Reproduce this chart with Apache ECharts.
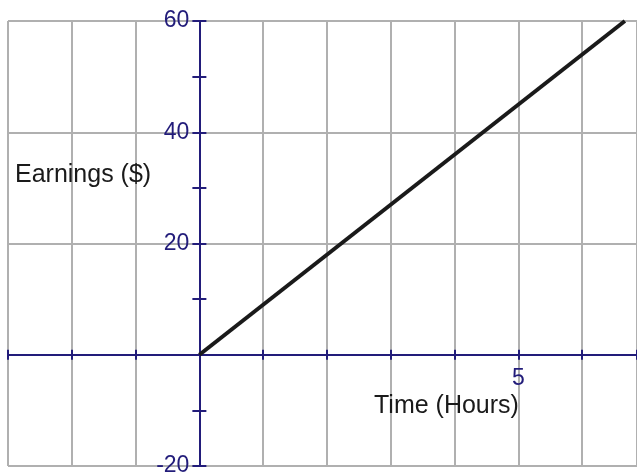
<!DOCTYPE html>
<html>
<head>
<meta charset="utf-8">
<script src="https://cdn.jsdelivr.net/npm/echarts@6/dist/echarts.min.js"></script>
<style>
html,body{margin:0;padding:0;background:#fff;}
#c{width:637px;height:473px;}
</style>
</head>
<body>
<div id="c"></div>
<script>
const hours = [0, 6.67];
const earnings = [0, 60];
const xLabelsShown = [5];
const yLabelsShown = [60, 40, 20, -20];
const xTitle = 'Time (Hours)';
const yTitle = 'Earnings ($)';

const xMin = -3, xMax = 6.86, yMin = -20, yMax = 60;
const G = { left: 8, top: 21, right: 0, bottom: 7 };
const W = 637, H = 473;
const gw = W - G.left - G.right, gh = H - G.top - G.bottom;
// axis crossings at zero, derived from scale
const zx = (0 - xMin) / (xMax - xMin) * gw;
const zy = (0 - yMin) / (yMax - yMin) * gh;

const navy = '#221c7a';
const gray = '#b0b0b0';
const font = 'Liberation Sans, Arial, sans-serif';

const chart = echarts.init(document.getElementById('c'));
const xBase = {
  type: 'value', min: xMin, max: xMax, interval: 1,
  axisLine: { onZero: false, lineStyle: { color: navy, width: 2 } },
  axisTick: { show: true, length: 5, lineStyle: { color: navy, width: 2 } }
};
const yBase = {
  type: 'value', min: yMin, max: yMax, interval: 10,
  axisLine: { onZero: false, lineStyle: { color: navy, width: 2 } },
  axisTick: { show: true, length: 7, lineStyle: { color: navy, width: 2 } }
};
chart.setOption({
  animation: false,
  grid: Object.assign({ containLabel: false, outerBoundsMode: 'none' }, G),
  xAxis: [
    Object.assign({}, xBase, {
      position: 'bottom', offset: -zy,
      axisLabel: { formatter: v => xLabelsShown.includes(v) ? String(v) : '', color: navy, fontSize: 23, fontFamily: font, margin: 12 },
      splitLine: { show: true, lineStyle: { color: gray, width: 2 } }
    }),
    Object.assign({}, xBase, {
      position: 'top', offset: -(gh - zy),
      axisLabel: { show: false },
      splitLine: { show: false }
    })
  ],
  yAxis: [
    Object.assign({}, yBase, {
      position: 'left', offset: -zx,
      axisLabel: { formatter: v => yLabelsShown.includes(v) ? String(v) : '', color: navy, fontSize: 23, fontFamily: font, margin: 10 },
      splitLine: { show: true, lineStyle: { color: [gray, 'rgba(0,0,0,0)'], width: 2 } }
    }),
    Object.assign({}, yBase, {
      position: 'right', offset: -(gw - zx),
      axisLabel: { show: false },
      splitLine: { show: false }
    })
  ],
  graphic: [
    { type: 'text', z: 100, left: 15, top: 163, style: { text: yTitle, fontSize: 25, fontFamily: font, fill: '#1a1a1a' } },
    { type: 'text', z: 100, left: 374, top: 394, style: { text: xTitle, fontSize: 25, fontFamily: font, fill: '#1a1a1a' } }
  ],
  series: [{
    type: 'line',
    xAxisIndex: 0, yAxisIndex: 0,
    data: hours.map((h, i) => [h, earnings[i]]),
    showSymbol: false,
    lineStyle: { color: '#1a1a1a', width: 4 },
    z: 5
  }]
});
</script>
</body>
</html>
